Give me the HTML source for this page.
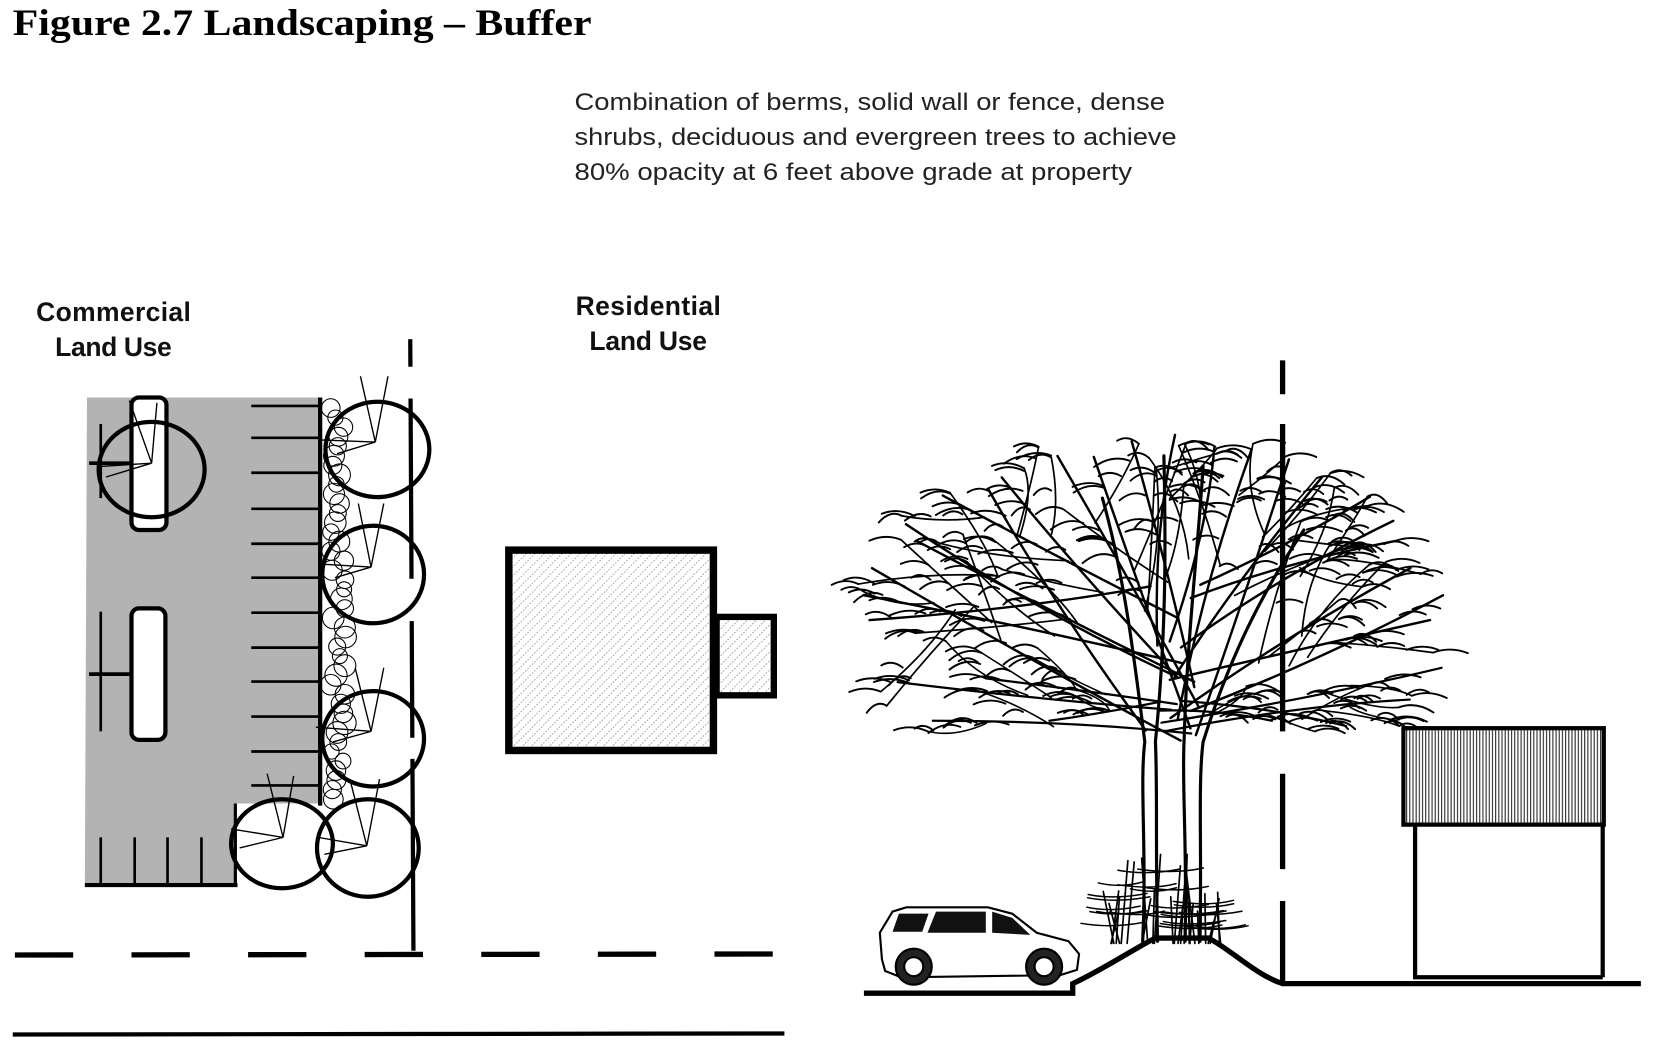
<!DOCTYPE html>
<html><head><meta charset="utf-8"><style>
html,body{margin:0;padding:0;background:#fff;}
svg{display:block;}
</style></head><body>
<svg id="s" width="1660" height="1043" viewBox="0 0 1566 984" xmlns="http://www.w3.org/2000/svg">
<defs>
<pattern id="hatch" width="6" height="6" patternUnits="userSpaceOnUse" patternTransform="rotate(45)">
<line x1="0" y1="0" x2="0" y2="6" stroke="#555" stroke-width="1" stroke-dasharray="1.5 1.5"/>
</pattern>
<pattern id="vl" width="3" height="10" patternUnits="userSpaceOnUse">
<line x1="1" y1="0" x2="1" y2="10" stroke="#222" stroke-width="1"/>
</pattern>
</defs>
<text x="12" y="33" font-family="Liberation Serif, serif" font-weight="bold" font-size="35" textLength="546" lengthAdjust="spacingAndGlyphs">Figure 2.7 Landscaping – Buffer</text>
<g font-family="Liberation Sans, sans-serif" font-size="23" fill="#222">
<text x="542" y="104" textLength="557" lengthAdjust="spacingAndGlyphs">Combination of berms, solid wall or fence, dense</text>
<text x="542" y="137" textLength="568" lengthAdjust="spacingAndGlyphs">shrubs, deciduous and evergreen trees to achieve</text>
<text x="542" y="170" textLength="526" lengthAdjust="spacingAndGlyphs">80% opacity at 6 feet above grade at property</text>
</g>
<g font-family="Liberation Sans, sans-serif" font-size="25" font-weight="bold" fill="#111" lengthAdjust="spacingAndGlyphs">
<text x="34" y="303" textLength="146">Commercial</text><text x="52" y="336" textLength="110">Land Use</text>
<text x="543" y="297" textLength="137">Residential</text><text x="556" y="330" textLength="111">Land Use</text>
</g>
<path d="M82 375 H302 V758 H222 V835 H80 Z" fill="#b3b3b3"/>
<line x1="302" y1="375" x2="302" y2="760" stroke="#000" stroke-width="4"/>
<line x1="80" y1="835" x2="224" y2="835" stroke="#000" stroke-width="4"/>
<line x1="222" y1="758" x2="222" y2="835" stroke="#000" stroke-width="3"/>
<g stroke="#000" stroke-width="2.5">
<line x1="237" y1="383" x2="302" y2="383"/><line x1="237" y1="413" x2="302" y2="413"/><line x1="237" y1="446" x2="302" y2="446"/><line x1="237" y1="480" x2="302" y2="480"/><line x1="237" y1="513" x2="302" y2="513"/><line x1="237" y1="545" x2="302" y2="545"/><line x1="237" y1="578" x2="302" y2="578"/><line x1="237" y1="611" x2="302" y2="611"/><line x1="237" y1="643" x2="302" y2="643"/><line x1="237" y1="676" x2="302" y2="676"/><line x1="237" y1="709" x2="302" y2="709"/><line x1="237" y1="741" x2="302" y2="741"/>
<line x1="95" y1="400" x2="95" y2="470"/><line x1="95" y1="577" x2="95" y2="690"/>
<line x1="95" y1="790" x2="95" y2="835"/><line x1="127" y1="790" x2="127" y2="835"/><line x1="158" y1="790" x2="158" y2="835"/><line x1="190" y1="790" x2="190" y2="835"/>
<line x1="84" y1="636" x2="124" y2="636" stroke-width="3.5"/>
<line x1="84" y1="437" x2="124" y2="437" stroke-width="3.5"/>
</g>
<rect x="124" y="375" width="33" height="125" rx="7" fill="#fff" stroke="#000" stroke-width="4"/>
<rect x="124" y="574" width="32" height="124" rx="7" fill="#fff" stroke="#000" stroke-width="4"/>
<g id="shrubs" fill="none" stroke="#000" stroke-width="1"></g>
<line x1="387" y1="320" x2="390" y2="897" stroke="#000" stroke-width="4" stroke-dasharray="26 30 170 40 110 20 200"/>
<g fill="none" stroke="#000" stroke-width="4">
<ellipse cx="143" cy="443" rx="50" ry="45"/>
<ellipse cx="356" cy="424" rx="49" ry="45"/>
<ellipse cx="352" cy="542" rx="48" ry="46"/>
<ellipse cx="352" cy="697" rx="48" ry="45"/>
<ellipse cx="266" cy="796" rx="48" ry="42"/>
<ellipse cx="347" cy="800" rx="48" ry="46"/>
</g>
<g fill="none" stroke="#000" stroke-width="1.3">
<path d="M122 378 L143 437 L148 380 M143 437 L95 440 M143 437 L100 450"/>
<path d="M340 355 L354 417 L366 355 M354 417 L302 415 M354 417 L318 428"/>
<path d="M338 475 L350 535 L362 475 M350 535 L300 532 M350 535 L316 545"/>
<path d="M335 630 L350 690 L362 630 M350 690 L298 686 M350 690 L314 700"/>
<path d="M252 730 L267 790 L277 732 M267 790 L218 782 M267 790 L226 800"/>
<path d="M330 735 L346 798 L358 735 M346 798 L300 790 M346 798 L306 806"/>
</g>
<line x1="14" y1="901" x2="738" y2="900" stroke="#000" stroke-width="5" stroke-dasharray="55 55"/>
<line x1="12" y1="976" x2="740" y2="975" stroke="#000" stroke-width="4"/>
<rect x="480" y="519" width="193" height="189" fill="url(#hatch)" stroke="#000" stroke-width="7"/>
<rect x="676" y="582" width="54" height="74" fill="url(#hatch)" stroke="#000" stroke-width="6"/>
<line x1="1210" y1="340" x2="1210" y2="928" stroke="#000" stroke-width="5" stroke-dasharray="32 28 290 40 90 30 80"/>
<g id="tree" fill="none" stroke="#000" stroke-linecap="round"></g>
<path d="M815 937 H1012 V928 C1040 915 1070 895 1090 885 H1140 C1160 895 1185 920 1210 928 H1548" fill="none" stroke="#000" stroke-width="5"/>
<g stroke="#000" fill="#fff" stroke-width="2">
<path d="M832 905 L830 880 L842 860 L855 856 L932 856 L955 862 L978 880 L1008 888 L1018 900 L1016 915 L1000 920 L850 922 L835 916 Z"/>
<path d="M883 860 L875 880 L930 880 L930 860 Z" fill="#111" stroke="none"/>
<path d="M936 860 L936 880 L972 882 L955 866 Z" fill="#111" stroke="none"/>
<path d="M848 862 L842 879 L870 879 L876 862 Z" fill="#111" stroke="none"/>
<circle cx="862" cy="912" r="17" fill="#222"/><circle cx="862" cy="912" r="9" fill="#fff"/>
<circle cx="985" cy="912" r="17" fill="#222"/><circle cx="985" cy="912" r="9" fill="#fff"/>
</g>
<rect x="1324" y="687" width="189" height="91" fill="url(#vl)" stroke="#000" stroke-width="4"/>
<path d="M1335 778 V922 M1512 778 V922 M1333 922 H1512" stroke="#000" stroke-width="4" fill="none"/>
</svg>
<script>
(function(){
var seed=11;function r(){seed=(seed*16807)%2147483647;return (seed-1)/2147483646;}
var NS="http://www.w3.org/2000/svg";
function P(g,d,w){var p=document.createElementNS(NS,"path");p.setAttribute("d",d);p.setAttribute("stroke-width",w);g.appendChild(p);}
var sh=document.getElementById("shrubs");
for(var y=385;y<760;y+=9){var c=document.createElementNS(NS,"circle");c.setAttribute("cx",312+r()*14);c.setAttribute("cy",y);c.setAttribute("r",7+r()*4);sh.appendChild(c);}
var t=document.getElementById("tree");
var CX=1088,CY=585,RX=287,RY=180;
function inside(x,y){var a=(x-CX)/RX,b=(y-CY)/RY;return a*a+b*b<=1&&y<=690;}
function clampPt(x,y){for(var k=0;k<20&&!inside(x,y);k++){x=x+(CX-x)*0.1;y=y+(CY-y)*0.1;if(y>690)y=690;}return [x,y];}
P(t,"M1078 888 C1082 800 1075 740 1080 700 C1070 620 1060 540 1040 470",3);
P(t,"M1092 888 C1090 800 1092 740 1090 700 C1100 600 1100 520 1098 430",3);
P(t,"M1118 888 C1120 800 1115 740 1117 700 C1120 600 1130 520 1135 440",3);
P(t,"M1132 888 C1134 800 1130 740 1135 700 C1160 620 1190 560 1230 500",3);
function twig(x,y,dir){var L=16+r()*18;var tx=x+dir*L,ty=y-3+r()*10;P(t,"M"+x.toFixed(1)+" "+y.toFixed(1)+" Q"+((x+tx)/2).toFixed(1)+" "+(Math.min(y,ty)-6).toFixed(1)+" "+tx.toFixed(1)+" "+ty.toFixed(1),1.8);}
function branch(x0,y0,x1,y1,w,depth){
 var q=clampPt(x1,y1);x1=q[0];y1=q[1];
 var mx=(x0+x1)/2+(r()-0.5)*30,my=(y0+y1)/2+(r()-0.5)*20;
 P(t,"M"+x0.toFixed(1)+" "+y0.toFixed(1)+" Q"+mx.toFixed(1)+" "+my.toFixed(1)+" "+x1.toFixed(1)+" "+y1.toFixed(1),w);
 var dir=x1>=CX?1:-1;
 if(depth>0){for(var i=0;i<2;i++){var f=0.35+r()*0.5;var bx=x0+(x1-x0)*f,by=y0+(y1-y0)*f;
  var ang=Math.atan2(y1-y0,x1-x0)+(r()<0.5?-1:1)*(0.3+r()*0.5);var L=Math.hypot(x1-x0,y1-y0)*(0.3+r()*0.25);
  branch(bx,by,bx+Math.cos(ang)*L,by+Math.sin(ang)*L,Math.max(1.5,w*0.7),depth-1);}
  for(var k=0;k<4;k++){var f3=0.45+r()*0.55;twig(x0+(x1-x0)*f3,y0+(y1-y0)*f3,dir);} }
 else{for(var k=0;k<2;k++){var f2=0.4+r()*0.6;twig(x0+(x1-x0)*f2,y0+(y1-y0)*f2,dir);}twig(x1,y1,dir);}
}
var N=22;
for(var i=0;i<N;i++){
 var a=Math.PI*(1.0+i/(N-1)*1.0);
 var ex=CX+Math.cos(a)*RX*(0.85+r()*0.15), ey=CY+Math.sin(a)*RY*(0.85+r()*0.15);
 var sx=1080+r()*55, sy=700-r()*150;
 branch(sx,sy,ex,ey,2.3,1);
}
var low=[[820,650],[880,680],[1330,660],[1360,630],[930,640],[1270,685],[990,680],[1200,680]];
for(var j=0;j<low.length;j++)branch(1090+r()*40,700-r()*40,low[j][0],low[j][1],2.1,1);
for(var j=0;j<26;j++){var x=1045+r()*110,y=890;var h=30+r()*60;P(t,"M"+x+" "+y+" L"+(x+(r()-0.5)*20)+" "+(y-h),1.6);
 var yy=y-10-r()*h*0.8;P(t,"M"+(x-20-r()*15)+" "+(yy-5)+" Q"+x+" "+yy+" "+(x+20+r()*15)+" "+(yy-6),1.4);}
})();
</script>
</body></html>
